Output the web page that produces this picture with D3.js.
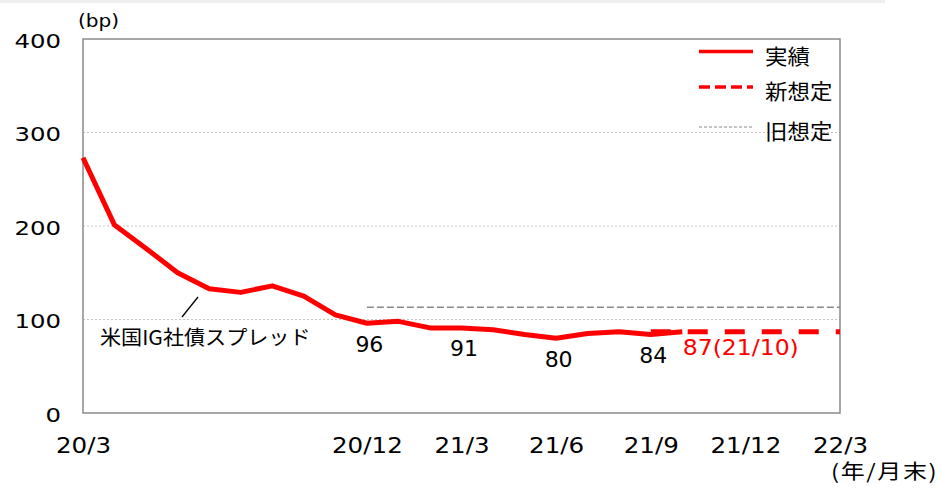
<!DOCTYPE html>
<html><head><meta charset="utf-8">
<script src="https://cdn.jsdelivr.net/npm/d3@7"></script>
<style>body{margin:0;background:#fff} svg{display:block}</style>
</head><body><svg id="c" width="941" height="490"></svg>
<script>
// ---- data ----
const months = ["20/3","20/4","20/5","20/6","20/7","20/8","20/9","20/10","20/11","20/12",
  "21/1","21/2","21/3","21/4","21/5","21/6","21/7","21/8","21/9","21/10","21/11","21/12",
  "22/1","22/2","22/3"];
const actualMonths = ["20/3","20/4","20/5","20/6","20/7","20/8","20/9","20/10","20/11","20/12",
  "21/1","21/2","21/3","21/4","21/5","21/6","21/7","21/8","21/9","21/10"];
const actualValues = [273,201,176,150,133,129,136,125,105,96,98,91,91,89,84,80,85,87,84,87];
const newMonths = ["21/9","21/10","21/11","21/12","22/1","22/2","22/3"];
const newValues = [87,87,87,87,87,87,87];
const oldMonths = ["20/12","21/1","21/2","21/3","21/4","21/5","21/6","21/7","21/8","21/9",
  "21/10","21/11","21/12","22/1","22/2","22/3"];
const oldValues = [113,113,113,113,113,113,113,113,113,113,113,113,113,113,113,113];
const xTickLabels = ["20/3","20/12","21/3","21/6","21/9","21/12","22/3"];
const yTicks = [0,100,200,300,400];
const gridValues = [100,200,300];
const labelMonths = ["20/12","21/3","21/6","21/9"];
const labelValues = [96,91,80,84];
const latestLabel = "87(21/10)";
const latestMonth = "21/10";
const latestValue = 87;
const seriesNames = ["実績","新想定","旧想定"];
const unitLabel = "(bp)";
const xUnitLabel = "(年/月末)";
const annotation = "米国IG社債スプレッド";

// ---- layout ----
const L = 83, R = 840, T = 39, B = 413;
const RED = "#ff0000", GRAY = "#8a8a8a";
const NUM = "'DejaVu Sans', Verdana, sans-serif";
const CJK = "'Noto Sans CJK JP', 'Noto Sans', sans-serif";

const svg = d3.select("#c");
svg.append("rect").attr("x",0).attr("y",0).attr("width",885).attr("height",3).attr("fill","#efefef");

const x = d3.scalePoint().domain(months).range([L, R]);
const y = d3.scaleLinear().domain([0, 400]).range([B, T]);

function stretch(sel, sx) {
  sel.each(function() {
    const t = d3.select(this);
    const tx = +t.attr("x") || 0, ty = +t.attr("y") || 0;
    t.attr("transform", `translate(${tx},${ty}) scale(${sx},1) translate(${-tx},${-ty})`);
  });
}

// grid
svg.append("g").selectAll("line").data(gridValues).join("line")
  .attr("x1", L).attr("x2", R).attr("y1", d => y(d)).attr("y2", d => y(d))
  .attr("stroke", "#c4c4c4").attr("stroke-width", 1).attr("stroke-dasharray", "2,2");

// frame
svg.append("rect").attr("x", L).attr("y", T).attr("width", R - L).attr("height", B - T)
  .attr("fill", "none").attr("stroke", GRAY).attr("stroke-width", 1.5);

// axes
const yAx = svg.append("g").attr("transform", `translate(${L},0)`)
  .call(d3.axisLeft(y).tickValues(yTicks).tickSize(0).tickPadding(22));
yAx.select(".domain").remove();
yAx.selectAll("text").attr("font-family", NUM).attr("font-size", 20).attr("fill", "#000").attr("dy", "0.4em");
stretch(yAx.selectAll("text"), 1.22);

const xAx = svg.append("g").attr("transform", `translate(0,${B})`)
  .call(d3.axisBottom(x).tickValues(xTickLabels).tickSize(0).tickPadding(25));
xAx.select(".domain").remove();
xAx.selectAll("text").attr("font-family", NUM).attr("font-size", 21).attr("fill", "#000");
stretch(xAx.selectAll("text"), 1.17);

// lines
const line = d3.line().x(d => x(d[0])).y(d => y(d[1]));
svg.append("path").datum(d3.zip(oldMonths, oldValues)).attr("d", line)
  .attr("fill", "none").attr("stroke", GRAY).attr("stroke-width", 1.5).attr("stroke-dasharray", "7,3");
svg.append("path").datum(d3.zip(newMonths, newValues)).attr("d", line)
  .attr("fill", "none").attr("stroke", RED).attr("stroke-width", 5).attr("stroke-dasharray", "20,17");
svg.append("path").datum(d3.zip(actualMonths, actualValues)).attr("d", line)
  .attr("fill", "none").attr("stroke", RED).attr("stroke-width", 5).attr("stroke-linejoin", "round");

// data labels
svg.append("g").selectAll("text").data(d3.zip(labelMonths, labelValues)).join("text")
  .attr("x", d => x(d[0]) + 2.5).attr("y", d => y(d[1]) + 28.5)
  .attr("text-anchor", "middle").attr("font-family", NUM).attr("font-size", 22).attr("fill", "#000")
  .text(d => d[1]);
const ll = svg.append("text").attr("x", x(latestMonth) + 0.5).attr("y", y(latestValue) + 23.5)
  .attr("font-family", NUM).attr("font-size", 21).attr("fill", RED).text(latestLabel);
stretch(ll, 1.12);

// annotation
svg.append("line").attr("x1", 198).attr("y1", 297).attr("x2", 182).attr("y2", 317)
  .attr("stroke", "#000").attr("stroke-width", 1.3);
const an = svg.append("text").attr("x", 100).attr("y", 345).attr("font-family", CJK)
  .attr("font-size", 20).attr("fill", "#000").text(annotation);
stretch(an, 1.055);

// unit labels
const ub = svg.append("text").attr("x", 78).attr("y", 27.5).attr("font-family", NUM)
  .attr("font-size", 17).attr("fill", "#000").text(unitLabel);
stretch(ub, 1.18);
const xu = svg.append("text").attr("x", 831).attr("y", 479)
  .attr("font-family", CJK).attr("font-size", 20).attr("fill", "#000")
  .attr("textLength", 88).attr("lengthAdjust", "spacing").text(xUnitLabel);
stretch(xu, 1.2);

// legend
const legY = [51.5, 87, 127];
const legStyles = [
  {stroke: RED, w: 3.5, dash: null},
  {stroke: RED, w: 3.5, dash: "11,5"},
  {stroke: GRAY, w: 1, dash: "3,2"}
];
const lg = svg.append("g");
seriesNames.forEach((name, i) => {
  lg.append("line").attr("x1", 699).attr("x2", 753).attr("y1", legY[i]).attr("y2", legY[i])
    .attr("stroke", legStyles[i].stroke).attr("stroke-width", legStyles[i].w)
    .attr("stroke-dasharray", legStyles[i].dash);
  const t = lg.append("text").attr("x", 765).attr("y", legY[i] + 12.5)
    .attr("font-family", CJK).attr("font-size", 21).attr("fill", "#000").text(name);
  stretch(t, 1.07);
});
</script></body></html>
